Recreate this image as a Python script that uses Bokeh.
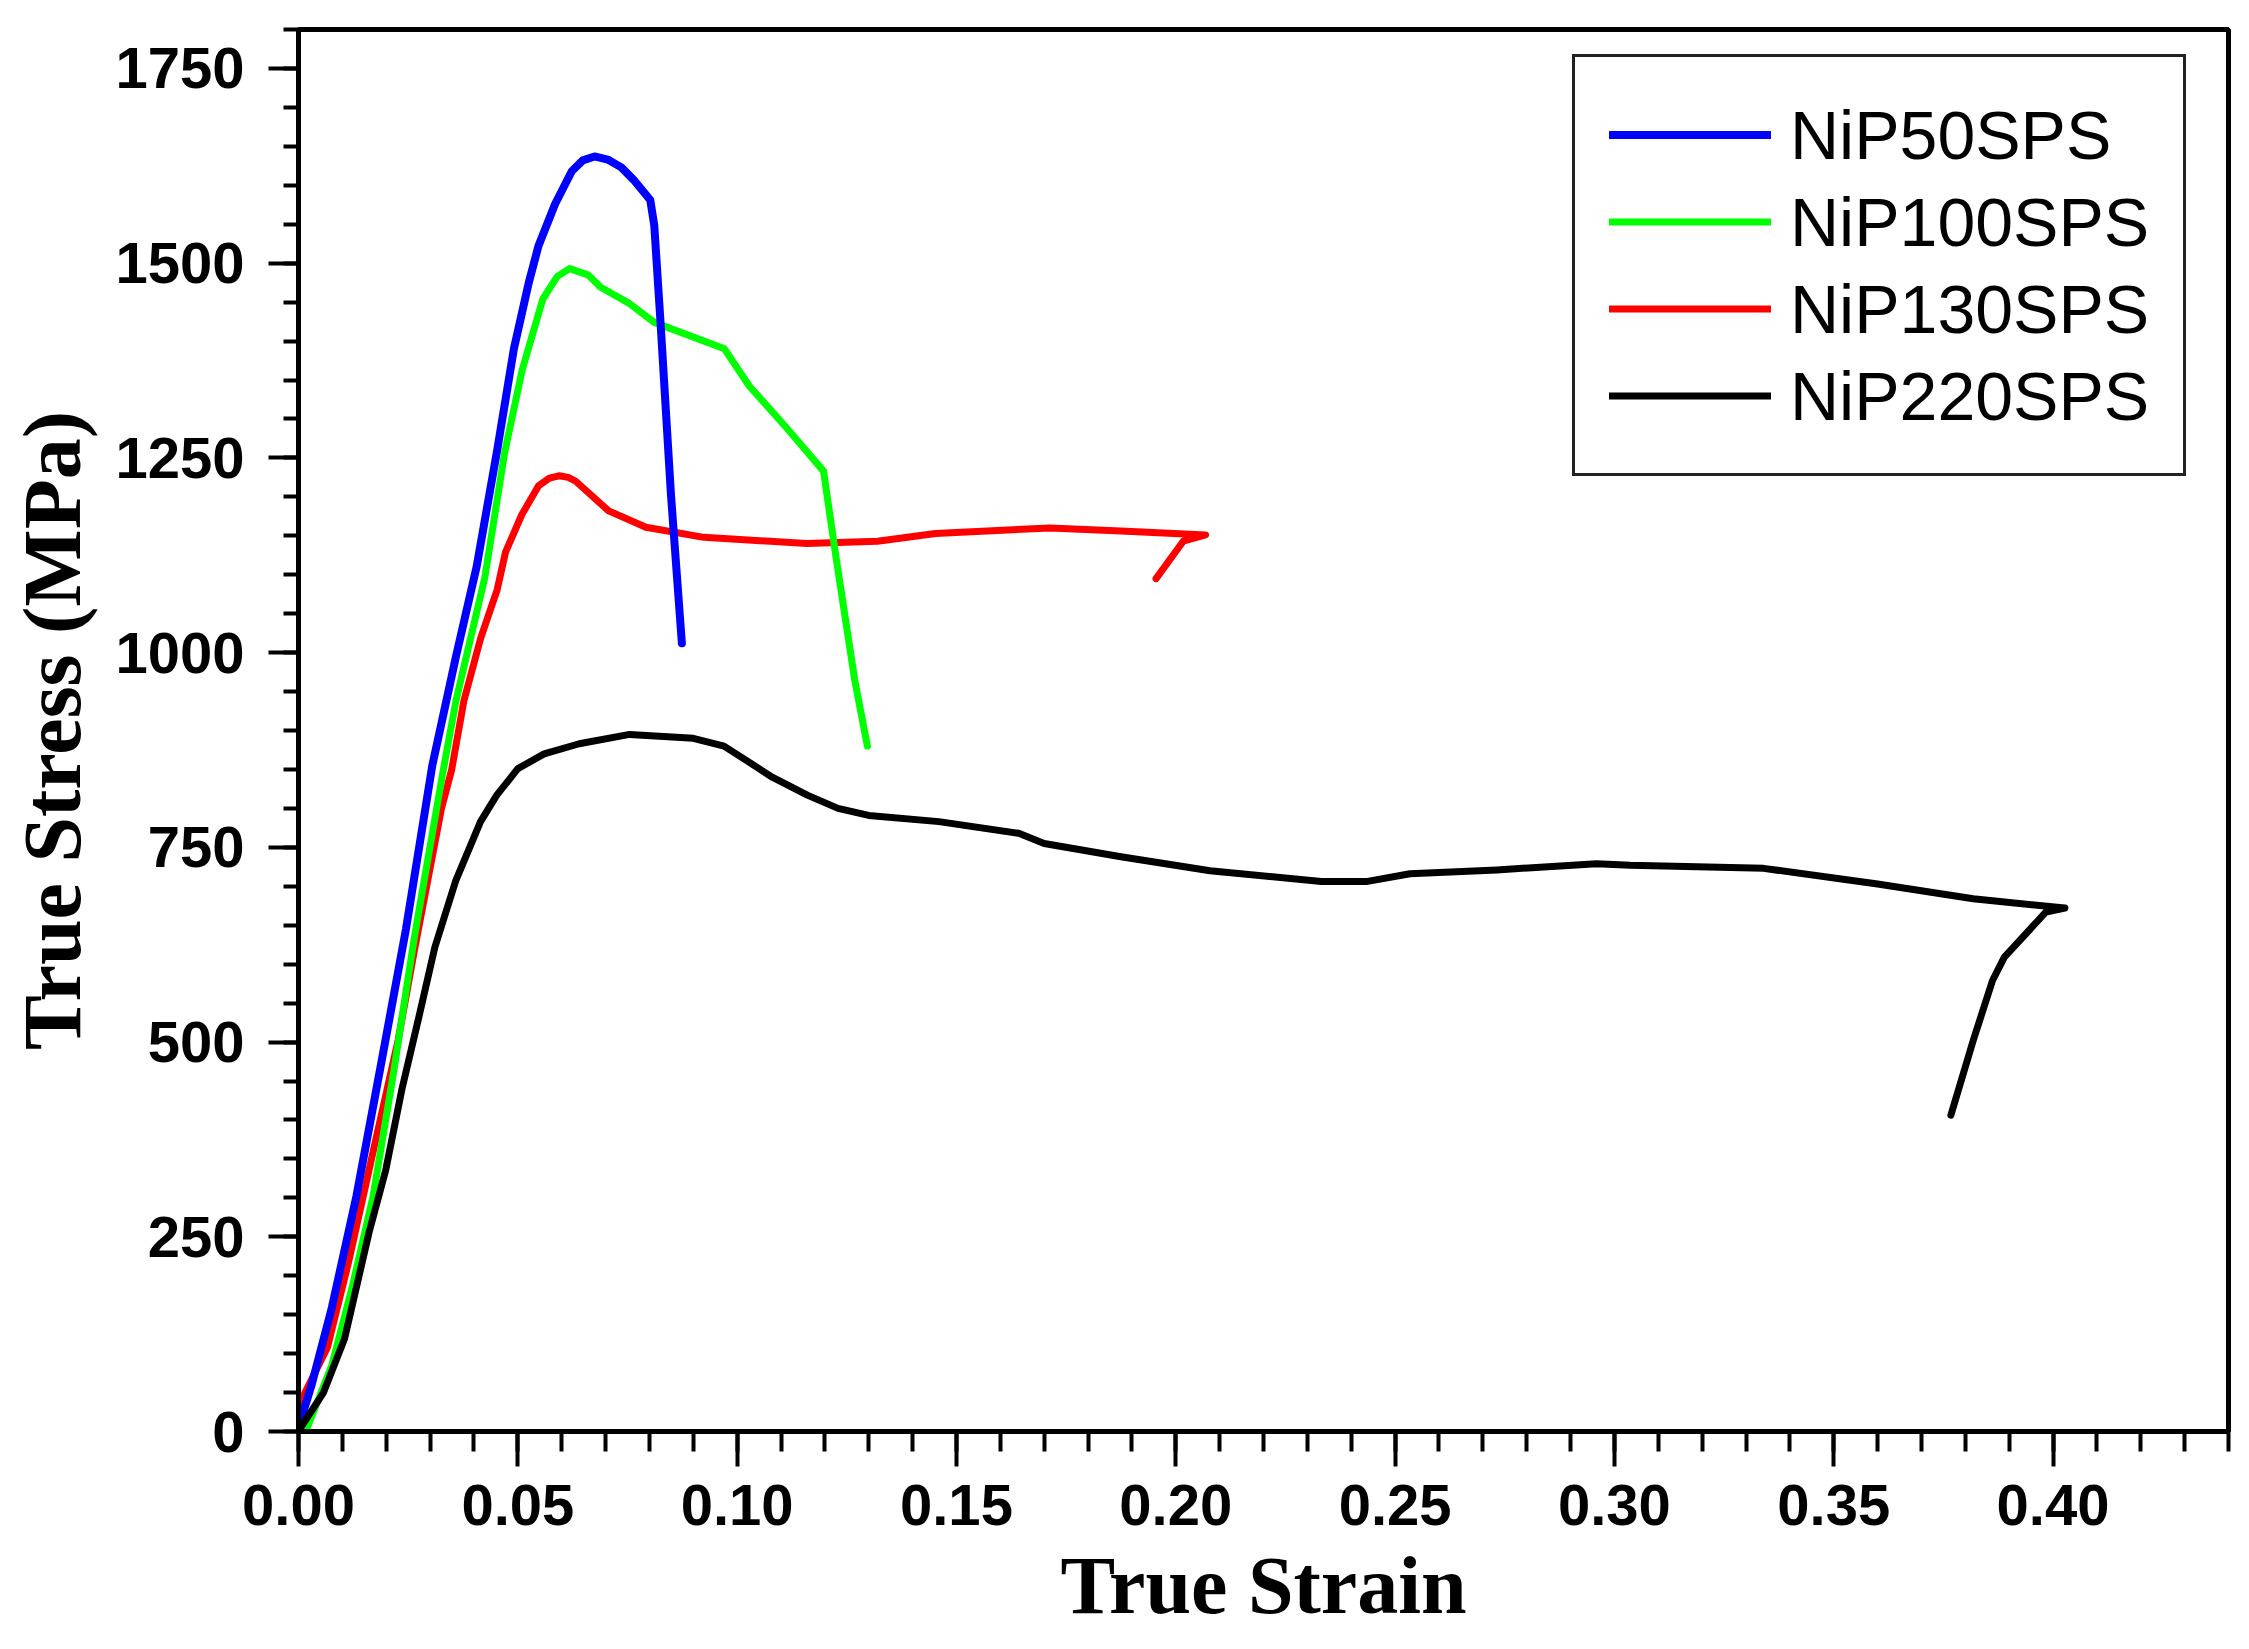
from bokeh.plotting import figure
from bokeh.models import Range1d, FixedTicker, PrintfTickFormatter, Legend, LegendItem
from bokeh.embed import file_html
from bokeh.resources import INLINE

# ---- data ----
x_ticks = [0.00, 0.05, 0.10, 0.15, 0.20, 0.25, 0.30, 0.35, 0.40]
y_ticks = [0, 250, 500, 750, 1000, 1250, 1500, 1750]
x_minor = [round(i * 0.01, 2) for i in range(45)]
y_minor = [i * 50 for i in range(37)]

x_title = "True Strain"
y_title = "True Stress (MPa)"
names = ["NiP50SPS", "NiP100SPS", "NiP130SPS", "NiP220SPS"]

nip50_x = [0.000, 0.003, 0.0076, 0.0132, 0.0189, 0.0245, 0.0305, 0.0359, 0.0406, 0.0453,
           0.0491, 0.0525, 0.0547, 0.0585, 0.0623, 0.0648, 0.0675, 0.0705, 0.0736, 0.0764,
           0.0802, 0.0811, 0.0825, 0.0849, 0.0874]
nip50_y = [5, 60, 159, 302, 474, 645, 855, 995, 1110, 1260,
           1390, 1475, 1522, 1576, 1618, 1632, 1637, 1633, 1623, 1607,
           1581, 1549, 1427, 1204, 1012]

nip100_x = [0.002, 0.0076, 0.0123, 0.017, 0.0217, 0.0264, 0.033, 0.0359, 0.0425, 0.047,
            0.051, 0.0557, 0.059, 0.0618, 0.066, 0.0689, 0.0755, 0.0811, 0.0971, 0.1028,
            0.1112, 0.1197, 0.1225, 0.1268, 0.1297]
nip100_y = [5, 85, 187, 302, 462, 634, 849, 938, 1097, 1257,
            1363, 1454, 1483, 1493, 1485, 1469, 1448, 1424, 1390, 1342,
            1289, 1233, 1124, 965, 880]

nip130_x = [0.000, 0.0066, 0.0114, 0.017, 0.0227, 0.0264, 0.0326, 0.0349, 0.0377, 0.0415,
            0.0453, 0.0472, 0.0509, 0.0547, 0.0572, 0.0594, 0.0615, 0.0632, 0.0707, 0.0792,
            0.0924, 0.1159, 0.132, 0.1452, 0.1713, 0.1875, 0.2068, 0.2017, 0.1955]
nip130_y = [33, 108, 217, 359, 502, 617, 800, 849, 938, 1018,
            1081, 1129, 1177, 1214, 1224, 1227, 1225, 1220, 1182, 1161,
            1148, 1140, 1143, 1153, 1160, 1156, 1151, 1143, 1095]

nip220_x = [0.0005, 0.0057, 0.0105, 0.0161, 0.0199, 0.0236, 0.0274, 0.0311, 0.0359, 0.0415,
            0.0452, 0.050, 0.056, 0.064, 0.0755, 0.090, 0.097, 0.102, 0.108, 0.116,
            0.123, 0.130, 0.146, 0.1642, 0.170, 0.1875, 0.2078, 0.2332, 0.2434, 0.2534,
            0.2732, 0.2959, 0.3036, 0.334, 0.360, 0.3818, 0.4027, 0.3984, 0.3889, 0.3862,
            0.3818, 0.3767]
nip220_y = [5, 50, 119, 256, 336, 440, 531, 622, 708, 783,
            817, 851, 870, 883, 895, 890, 880, 862, 840, 817,
            800, 791, 783, 768, 755, 738, 720, 706, 706, 716,
            721, 729, 727, 723, 703, 684, 672, 667, 609, 579,
            502, 406]

colors = ["#0000FF", "#00FF00", "#FF0000", "#000000"]
widths = [8, 7, 7, 7]

# ---- figure ----
p = figure(width=2233, height=1633, output_backend="svg", toolbar_location=None,
           x_range=Range1d(0, 0.44), y_range=Range1d(0, 1800),
           min_border_left=298, min_border_right=5, min_border_top=29, min_border_bottom=200,
           background_fill_color="white", border_fill_color="white")
p.xgrid.visible = False
p.ygrid.visible = False
p.outline_line_color = "black"
p.outline_line_width = 5
p.outline_line_alpha = 1.0

p.xaxis.ticker = FixedTicker(ticks=x_ticks, minor_ticks=x_minor)
p.yaxis.ticker = FixedTicker(ticks=y_ticks, minor_ticks=y_minor)
p.xaxis.formatter = PrintfTickFormatter(format="%.2f")
p.yaxis.formatter = PrintfTickFormatter(format="%d")
p.xaxis.axis_label = x_title
p.yaxis.axis_label = y_title

for ax in [p.xaxis[0], p.yaxis[0]]:
    ax.axis_line_width = 5
    ax.axis_line_color = "black"
    ax.major_tick_line_width = 4
    ax.minor_tick_line_width = 4
    ax.major_tick_line_color = "black"
    ax.minor_tick_line_color = "black"
    ax.major_tick_in = 0
    ax.minor_tick_in = 0
    ax.major_label_text_font = "Liberation Sans"
    ax.major_label_text_font_size = "58px"
    ax.major_label_text_font_style = "bold"
    ax.major_label_text_color = "black"
    ax.axis_label_text_font = "Liberation Serif"
    ax.axis_label_text_font_size = "82px"
    ax.axis_label_text_font_style = "bold"
    ax.axis_label_text_color = "black"

xa = p.xaxis[0]
xa.major_tick_out = 35
xa.minor_tick_out = 20
xa.major_label_standoff = 18
xa.axis_label_standoff = 12

ya = p.yaxis[0]
ya.major_tick_out = 30
ya.minor_tick_out = 15
ya.major_label_standoff = 24
ya.axis_label_standoff = 14

series = [(nip50_x, nip50_y), (nip100_x, nip100_y), (nip130_x, nip130_y), (nip220_x, nip220_y)]
renderers = [None] * 4
for i in [2, 1, 0, 3]:
    xs, ys = series[i]
    renderers[i] = p.line(xs, ys, line_color=colors[i], line_width=widths[i],
                          line_join="round", line_cap="round")

legend = Legend(items=[LegendItem(label=names[i], renderers=[renderers[i]]) for i in range(4)],
                location=(1274, 955))
legend.label_text_font = "Liberation Sans"
legend.label_text_font_size = "68px"
legend.label_text_color = "black"
legend.glyph_width = 162
legend.glyph_height = 87
legend.label_height = 87
legend.label_standoff = 19
legend.spacing = 0
legend.padding = 34
legend.border_line_color = "#222222"
legend.border_line_alpha = 1.0
legend.border_line_width = 3
legend.background_fill_color = "white"
legend.background_fill_alpha = 1.0
p.add_layout(legend, "center")

open("out.html", "w").write(file_html(p, INLINE))
